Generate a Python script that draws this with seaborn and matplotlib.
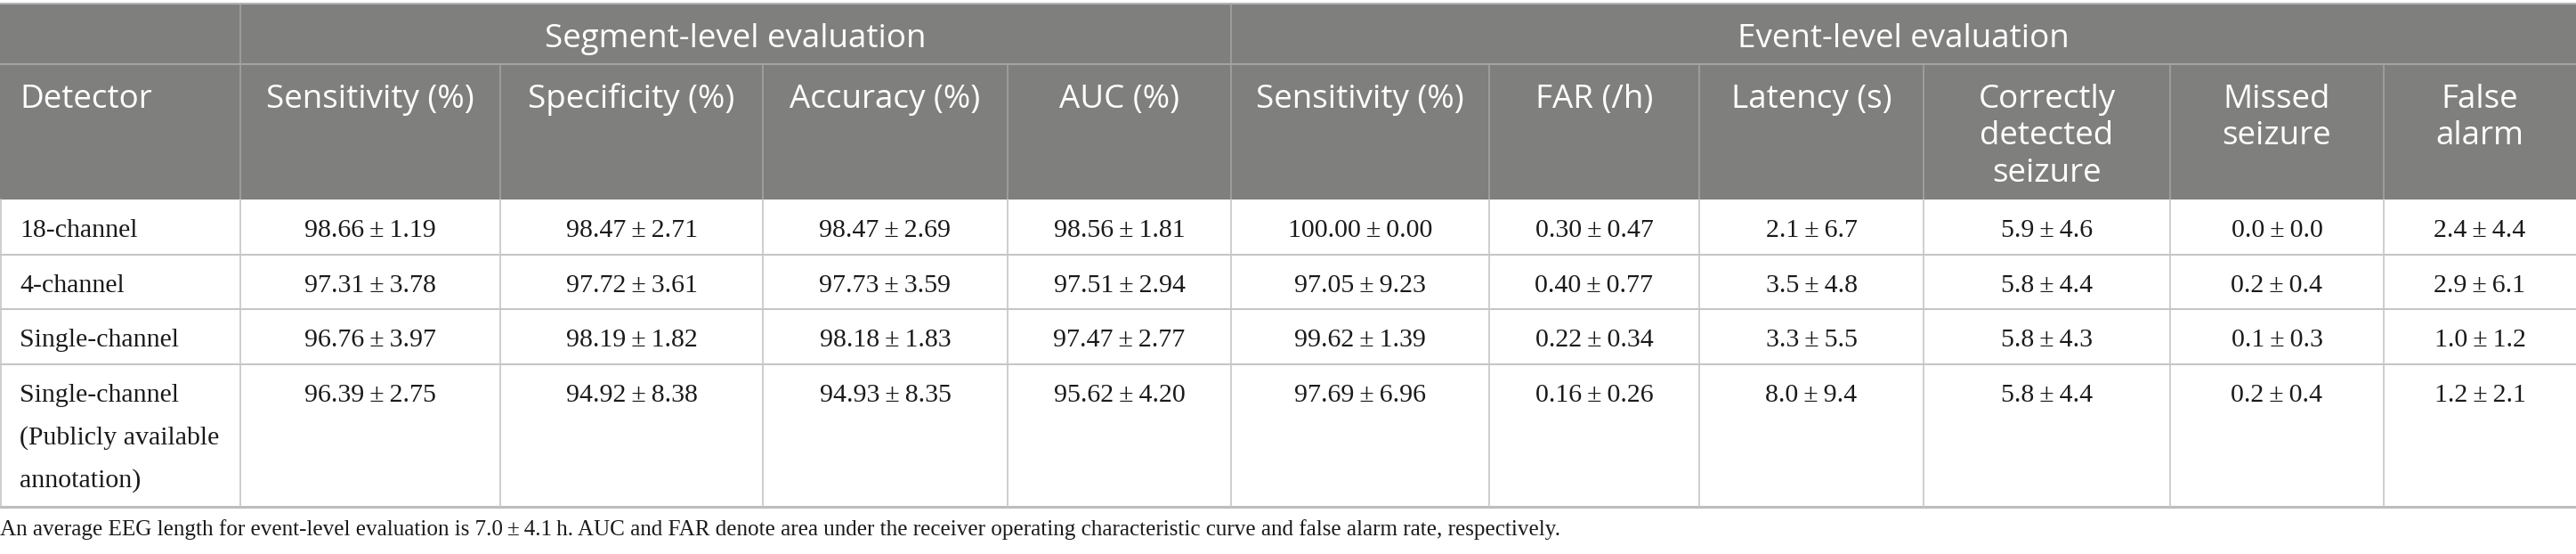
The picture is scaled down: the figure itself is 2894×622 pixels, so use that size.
import numpy as np
import pandas as pd
import matplotlib
matplotlib.use("Agg")
import matplotlib.pyplot as plt
import seaborn as sns
from matplotlib.patches import Rectangle

# table data (mean, sd)
detectors = ["18-channel", "4-channel", "Single-channel",
             "Single-channel\n(Publicly available\nannotation)"]

seg_sens_mean = [98.66, 97.31, 96.76, 96.39]
seg_sens_sd = [1.19, 3.78, 3.97, 2.75]
seg_spec_mean = [98.47, 97.72, 98.19, 94.92]
seg_spec_sd = [2.71, 3.61, 1.82, 8.38]
seg_acc_mean = [98.47, 97.73, 98.18, 94.93]
seg_acc_sd = [2.69, 3.59, 1.83, 8.35]
seg_auc_mean = [98.56, 97.51, 97.47, 95.62]
seg_auc_sd = [1.81, 2.94, 2.77, 4.20]
evt_sens_mean = [100.00, 97.05, 99.62, 97.69]
evt_sens_sd = [0.00, 9.23, 1.39, 6.96]
far_mean = [0.30, 0.40, 0.22, 0.16]
far_sd = [0.47, 0.77, 0.34, 0.26]
latency_mean = [2.1, 3.5, 3.3, 8.0]
latency_sd = [6.7, 4.8, 5.5, 9.4]
correct_mean = [5.9, 5.8, 5.8, 5.8]
correct_sd = [4.6, 4.4, 4.3, 4.4]
missed_mean = [0.0, 0.2, 0.1, 0.2]
missed_sd = [0.0, 0.4, 0.3, 0.4]
false_alarm_mean = [2.4, 2.9, 1.0, 1.2]
false_alarm_sd = [4.4, 6.1, 1.2, 2.1]

group_labels = ["Segment-level evaluation", "Event-level evaluation"]
col_labels = ["Detector", "Sensitivity (%)", "Specificity (%)", "Accuracy (%)", "AUC (%)",
              "Sensitivity (%)", "FAR (/h)", "Latency (s)",
              "Correctly\ndetected\nseizure", "Missed\nseizure", "False\nalarm"]

footnote = ("An average EEG length for event-level evaluation is 7.0\u2009\u00b1\u20094.1\u2009h. "
            "AUC and FAR denote area under the receiver operating characteristic curve "
            "and false alarm rate, respectively.")

columns = [
    (seg_sens_mean, seg_sens_sd, 2), (seg_spec_mean, seg_spec_sd, 2),
    (seg_acc_mean, seg_acc_sd, 2), (seg_auc_mean, seg_auc_sd, 2),
    (evt_sens_mean, evt_sens_sd, 2), (far_mean, far_sd, 2),
    (latency_mean, latency_sd, 1), (correct_mean, correct_sd, 1),
    (missed_mean, missed_sd, 1), (false_alarm_mean, false_alarm_sd, 1),
]

df = pd.DataFrame({"Detector": detectors})
for i, (m, s, d) in enumerate(columns):
    df[f"c{i}"] = [f"{a:.{d}f}\u2009\u00b1\u2009{b:.{d}f}" for a, b in zip(m, s)]

# layout in pixels
W, H = 2894, 622
col_edges = [0, 270, 562, 857, 1132, 1383, 1673, 1909, 2161, 2438, 2678, 2894]
group_spans = [(1, 5), (5, 11)]
head_top, head_mid, head_bot = 5, 72, 224
row_edges = [224, 286, 347, 409, 569]

header_gray = "#7f807e"
head_line = "#a3a4a2"
body_line = "#c6c6c6"

sns.set_theme(style="white")
head_font = ["Open Sans", "DejaVu Sans"]
body_font = ["Liberation Serif", "DejaVu Serif"]

fig = plt.figure(figsize=(W / 100, H / 100), dpi=100)
ax = fig.add_axes([0, 0, 1, 1])
ax.set_xlim(0, W)
ax.set_ylim(H, 0)
ax.axis("off")

# header background
ax.add_patch(Rectangle((0, head_top), W, head_bot - head_top, color=header_gray, lw=0))
ax.plot([0, W], [head_top - 1, head_top - 1], color="#b5b5b5", lw=1.5)
ax.plot([0, W], [head_mid, head_mid], color=head_line, lw=1.5)
for x in col_edges[1:-1]:
    y0 = head_top if x in (270, 1383) else head_mid
    ax.plot([x, x], [y0, head_bot], color=head_line, lw=1.2)

# body lines
for y in row_edges[1:-1]:
    ax.plot([0, W], [y, y], color=body_line, lw=1.5)
ax.plot([0, W], [row_edges[-1], row_edges[-1]], color="#bdbdbd", lw=2.2)
for x in col_edges[:-1]:
    ax.plot([max(x, 0.8), max(x, 0.8)], [head_bot, row_edges[-1]], color=body_line, lw=1.2)

# group headers
for label, (a, b) in zip(group_labels, group_spans):
    ax.text((col_edges[a] + col_edges[b]) / 2, 53, label, ha="center", va="baseline",
            color="white", fontsize=26.5, family=head_font)

# column headers
head_gap = 41.5
for j, label in enumerate(col_labels):
    for k, line in enumerate(label.split("\n")):
        if j == 0:
            x, ha = col_edges[0] + 22, "left"
        else:
            x, ha = (col_edges[j] + col_edges[j + 1]) / 2, "center"
        ax.text(x, 121 + k * head_gap, line, ha=ha, va="baseline", color="white",
                fontsize=26.5, family=head_font)

# body cells
body_gap = 48
for i, row in df.iterrows():
    base = row_edges[i] + 42
    for k, line in enumerate(row["Detector"].split("\n")):
        ax.text(col_edges[0] + 22, base + k * body_gap, line, ha="left", va="baseline",
                color="#1a1a1a", fontsize=21.5, family=body_font)
    for j in range(len(columns)):
        ax.text((col_edges[j + 1] + col_edges[j + 2]) / 2, base, row[f"c{j}"],
                ha="center", va="baseline", color="#1a1a1a", fontsize=21.5, family=body_font)

ax.text(0, 601, footnote, ha="left", va="baseline", color="#1a1a1a",
        fontsize=18.1, family=body_font)

fig.savefig("out.png", dpi=100, facecolor="white")
